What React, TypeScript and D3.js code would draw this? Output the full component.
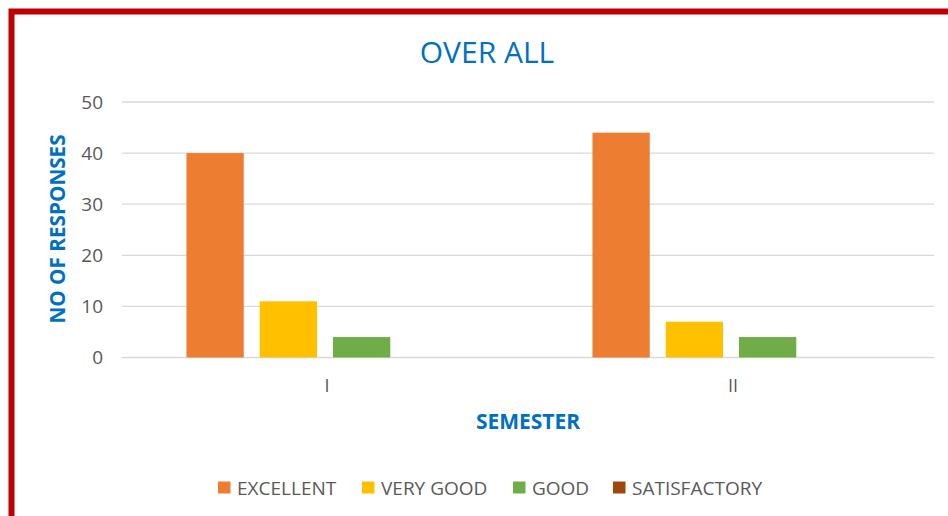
import React from "react";
import * as d3 from "d3";

const categories = ["I", "II"];
const seriesNames = ["EXCELLENT", "VERY GOOD", "GOOD", "SATISFACTORY"];
const excellent = [40, 44];
const veryGood = [11, 7];
const good = [4, 4];
const satisfactory = [0, 0];
const yTicks = [0, 10, 20, 30, 40, 50];
const colors = ["#ED7D31", "#FFC000", "#70AD47", "#9E480E"];

const seriesValues = [excellent, veryGood, good, satisfactory];

export default function App() {
  const W = 948, H = 516;
  const plotL = 122, plotR = 934, plotT = 102, plotB = 357.5;
  const x0 = d3.scaleBand<string>().domain(categories).range([plotL, plotR]).paddingInner(0).paddingOuter(0);
  const x1 = d3.scaleBand<string>().domain(seriesNames).range([0, x0.bandwidth()]).paddingInner(0.218).paddingOuter(0.88);
  const y = d3.scaleLinear().domain([0, 50]).range([plotB, plotT]);
  const font = "'Open Sans', sans-serif";
  const legendX = [218, 362, 513, 613];

  return (
    <svg width={W} height={H} style={{ position: "absolute", left: 0, top: 0 }} fontFamily={font}>
      <rect x={0} y={0} width={W} height={H} fill="#fff" />
      <rect x={11.5} y={11.5} width={W + 20} height={H + 20} fill="none" stroke="#C00000" strokeWidth={6} />
      <text x={487} y={52} dy="0.35em" textAnchor="middle" fontSize={30} fill="#0070C0">OVER ALL</text>
      {yTicks.map((t) => (
        <g key={t}>
          <line x1={plotL} x2={plotR} y1={y(t)} y2={y(t)} stroke="#D9D9D9" strokeWidth={1.3} />
          <text x={103} y={y(t)} dy="0.35em" textAnchor="end" fontSize={19} fill="#595959">{t}</text>
        </g>
      ))}
      {categories.map((c, ci) => (
        <g key={c}>
          {seriesNames.map((s, si) => {
            const v = seriesValues[si][ci];
            const bx = (x0(c) as number) + (x1(s) as number);
            return v > 0 ? (
              <rect key={s} x={bx} y={y(v)} width={x1.bandwidth()} height={y(0) - y(v)} fill={colors[si]} />
            ) : null;
          })}
          <text x={(x0(c) as number) + x0.bandwidth() / 2 + 2} y={386} dy="0.35em" textAnchor="middle" fontSize={18} fill="#595959">{c}</text>
        </g>
      ))}
      <text x={528} y={422} dy="0.35em" textAnchor="middle" fontSize={21} fontWeight="bold" fill="#0070C0">SEMESTER</text>
      <text transform={`translate(58,229) rotate(-90)`} dy="0.35em" textAnchor="middle" fontSize={20.7} fontWeight="bold" fill="#0070C0">NO OF RESPONSES</text>
      {seriesNames.map((s, i) => (
        <g key={s}>
          <rect x={legendX[i]} y={481.5} width={12.5} height={12} fill={colors[i]} />
          <text x={legendX[i] + 19} y={488} dy="0.35em" fontSize={19} fill="#595959">{s}</text>
        </g>
      ))}
    </svg>
  );
}
